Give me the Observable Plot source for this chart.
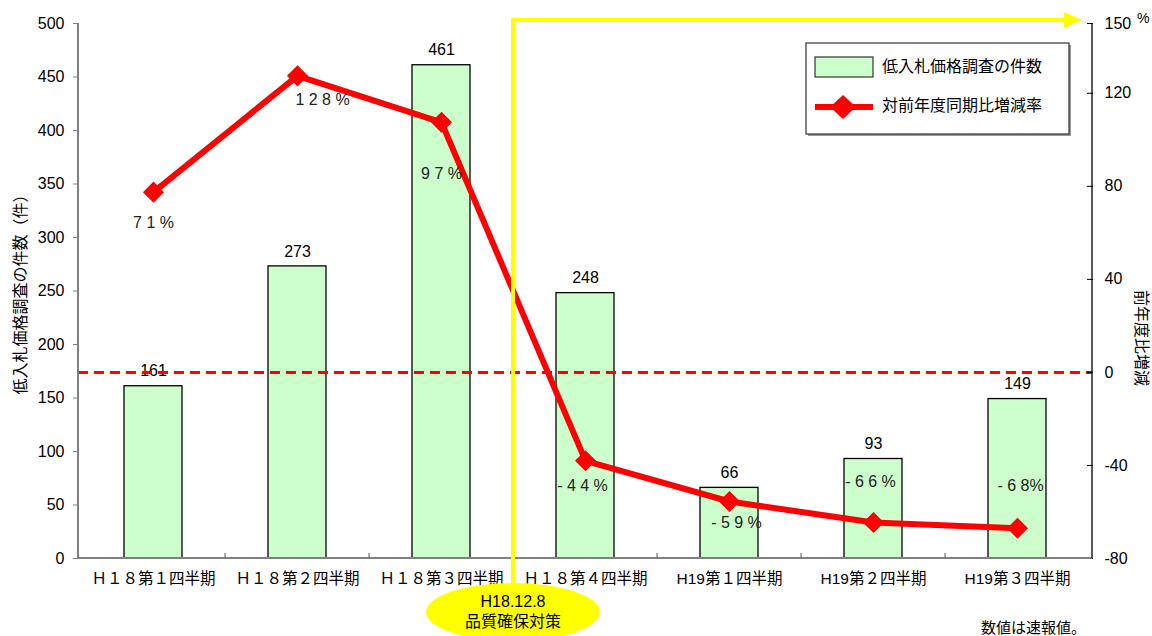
<!DOCTYPE html>
<html>
<head>
<meta charset="utf-8">
<script src="https://cdn.jsdelivr.net/npm/d3@7"></script>
<script src="https://cdn.jsdelivr.net/npm/@observablehq/plot@0.6"></script>
<style>
  html, body { margin: 0; padding: 0; background: #fff; }
  #chart { position: relative; width: 1152px; height: 636px; }
</style>
</head>
<body>
<div id="chart"></div>
<script>
// ---- data ----
const categories = ["Ｈ１８第１四半期", "Ｈ１８第２四半期", "Ｈ１８第３四半期", "Ｈ１８第４四半期", "H19第１四半期", "H19第２四半期", "H19第３四半期"];
const counts = [161, 273, 461, 248, 66, 93, 149];
const rates = [77.5, 127.5, 107.5, -38, -55.5, -64.5, -67];
const rateLabels = ["7 1 %", "1 2 8 %", "9 7 %", "- 4 4 %", "- 5 9 %", "- 6 6 %", "- 6 8%"];
const leftTicks = [0, 50, 100, 150, 200, 250, 300, 350, 400, 450, 500];
const rightTicks = [-80, -40, 0, 40, 80, 120, 150];
const leftTitle = "低入札価格調査の件数（件）";
const rightTitle = "前年度比増減";
const legendBar = "低入札価格調査の件数";
const legendLine = "対前年度同期比増減率";
const eventLines = ["H18.12.8", "品質確保対策"];
const note = "数値は速報値。";

// layout (label offsets in px)
const rateLabelOffsets = [[0, 31], [25, 24], [0, 52], [-3, 25], [7, 21], [-3, -41], [3, -42]];

const FONT = '"Liberation Sans", Arial, "Noto Sans CJK JP", sans-serif';
const NARROW = '"Liberation Sans Narrow", "Arial Narrow", "Liberation Sans", Arial, sans-serif';
const rMin = -80, rMax = 150, lMax = 500;
const toLeft = v => (v - rMin) * lMax / (rMax - rMin);

const rows = categories.map((c, i) => ({cat: c, count: counts[i], rate: rates[i], label: rateLabels[i]}));

const svg = Plot.plot({
  width: 1152,
  height: 636,
  marginLeft: 78,
  marginRight: 60,
  marginTop: 23,
  marginBottom: 78,
  style: {fontFamily: FONT, fontSize: "16px", color: "#000", background: "#fff", overflow: "visible"},
  x: {domain: categories, paddingInner: 0.6, paddingOuter: 0.3, axis: null},
  y: {domain: [0, lMax], axis: null},
  marks: [
    Plot.barY(rows, {x: "cat", y: "count", fill: "#CCFFCC", stroke: "#000", strokeWidth: 1.3}),
    Plot.text(rows, {x: "cat", y: "count", text: d => String(d.count), dy: -15, fontSize: 16, fill: "#000"}),
    Plot.ruleY([toLeft(0)], {stroke: "#FF0000", strokeWidth: 3, strokeDasharray: "10,6"}),
    Plot.line(rows, {x: "cat", y: d => toLeft(d.rate), stroke: "#FF0000", strokeWidth: 6}),
    Plot.dot(rows, {x: "cat", y: d => toLeft(d.rate), symbol: "diamond2", r: 9.5, fill: "#FF0000", stroke: "none"}),
    ...rows.map((d, i) => Plot.text([d], {
      x: "cat", y: d => toLeft(d.rate), text: "label",
      dx: rateLabelOffsets[i][0], dy: rateLabelOffsets[i][1],
      fontSize: 16, fontFamily: NARROW, fill: "#222", ariaLabel: "rate-label"
    })),
    Plot.axisY(leftTicks, {anchor: "left", tickSize: 5, tickPadding: 9, fontSize: 16, stroke: "#808080", label: null, tickFormat: d => String(d)}),
    Plot.axisY(rightTicks.map(toLeft), {
      anchor: "right", tickSize: 6, dx: -6, tickPadding: 12, fontSize: 16, label: null,
      tickFormat: v => { const r = Math.round(v * (rMax - rMin) / lMax + rMin); return r < 0 ? "-" + Math.abs(r) : String(r); }
    }),
    Plot.axisX({anchor: "bottom", tickSize: 0, tickPadding: 14, fontSize: 15.5, label: null, tickFormat: d => d})
  ]
});

document.getElementById("chart").appendChild(svg);

// ---- post-render overlays (derived from scales) ----
const xs = svg.scale("x"), ys = svg.scale("y");
const xr = xs.range;
const bw = xs.bandwidth;
const step = xs.apply(categories[1]) - xs.apply(categories[0]);
const pLeft = xr[0], pRight = xr[1];
const pBottom = ys.apply(0), pTop = ys.apply(lMax);
const root = d3.select(svg);

root.selectAll('g[aria-label="rate-label"] text').style("letter-spacing", "1px");

// axes lines
const g = root.append("g");
g.append("line").attr("x1", pLeft).attr("x2", pLeft).attr("y1", pTop).attr("y2", pBottom).attr("stroke", "#808080").attr("stroke-width", 2);
g.append("line").attr("x1", pLeft).attr("x2", pRight).attr("y1", pBottom).attr("y2", pBottom).attr("stroke", "#808080").attr("stroke-width", 2);
g.append("line").attr("x1", pRight).attr("x2", pRight).attr("y1", pTop).attr("y2", pBottom).attr("stroke", "#000").attr("stroke-width", 1.3);
for (let i = 1; i < categories.length; i++) {
  const bx = xs.apply(categories[i]) - (step - bw) / 2;
  g.append("line").attr("x1", bx).attr("x2", bx).attr("y1", pBottom).attr("y2", pBottom - 5).attr("stroke", "#555").attr("stroke-width", 1);
}

// axis titles
root.append("text").attr("transform", `translate(22,${(pTop + pBottom) / 2}) rotate(-90)`)
  .attr("text-anchor", "middle").attr("dominant-baseline", "middle")
  .style("font-family", FONT).style("font-size", "16px").text(leftTitle);
root.append("text").attr("transform", `translate(1140,${ys.apply(toLeft(0)) - 34}) rotate(90)`)
  .attr("text-anchor", "middle").attr("dominant-baseline", "middle")
  .style("font-family", FONT).style("font-size", "16px").text(rightTitle);
root.append("text").attr("x", 1137).attr("y", pTop - 4).attr("text-anchor", "start").attr("dominant-baseline", "middle")
  .style("font-family", FONT).style("font-size", "14px").text("%");

// event annotation (yellow)
const mid = (xs.apply(categories[2]) + xs.apply(categories[3]) + bw) / 2;
const yTop = ys.apply(toLeft(rMax)) - 3;
const ann = root.append("g");
ann.append("line").attr("x1", mid).attr("x2", mid).attr("y1", yTop).attr("y2", 600).attr("stroke", "#FFFF00").attr("stroke-width", 4);
ann.append("line").attr("x1", mid - 2).attr("x2", pRight - 26).attr("y1", yTop).attr("y2", yTop).attr("stroke", "#FFFF00").attr("stroke-width", 4);
ann.append("polygon").attr("points", `${pRight - 28},${yTop - 8} ${pRight - 10},${yTop} ${pRight - 28},${yTop + 8}`).attr("fill", "#FFFF00");
ann.append("ellipse").attr("cx", mid).attr("cy", 612).attr("rx", 87).attr("ry", 29).attr("fill", "#FFFF00");
ann.append("text").attr("x", mid).attr("y", 603).attr("text-anchor", "middle").attr("dominant-baseline", "middle")
  .style("font-family", FONT).style("font-size", "16px").text(eventLines[0]);
ann.append("text").attr("x", mid).attr("y", 623).attr("text-anchor", "middle").attr("dominant-baseline", "middle")
  .style("font-family", FONT).style("font-size", "16px").text(eventLines[1]);

// note
root.append("text").attr("x", 1086).attr("y", 629).attr("text-anchor", "end").attr("dominant-baseline", "middle")
  .style("font-family", FONT).style("font-size", "15px").text(note);

// legend
const lg = root.append("g");
lg.append("rect").attr("x", 808).attr("y", 45).attr("width", 263).attr("height", 91).attr("fill", "#999");
lg.append("rect").attr("x", 806).attr("y", 43).attr("width", 263).attr("height", 91).attr("fill", "#fff").attr("stroke", "#333").attr("stroke-width", 1.2);
lg.append("rect").attr("x", 815).attr("y", 57).attr("width", 58).attr("height", 20).attr("fill", "#CCFFCC").attr("stroke", "#333").attr("stroke-width", 1.2);
lg.append("text").attr("x", 882).attr("y", 68).attr("text-anchor", "start").attr("dominant-baseline", "middle")
  .style("font-family", FONT).style("font-size", "16px").text(legendBar);
lg.append("line").attr("x1", 815).attr("x2", 873).attr("y1", 107).attr("y2", 107).attr("stroke", "#FF0000").attr("stroke-width", 6);
lg.append("polygon").attr("points", "843,95 856,107 843,119 830,107").attr("fill", "#FF0000");
lg.append("text").attr("x", 882).attr("y", 107).attr("text-anchor", "start").attr("dominant-baseline", "middle")
  .style("font-family", FONT).style("font-size", "16px").text(legendLine);
</script>
</body>
</html>
